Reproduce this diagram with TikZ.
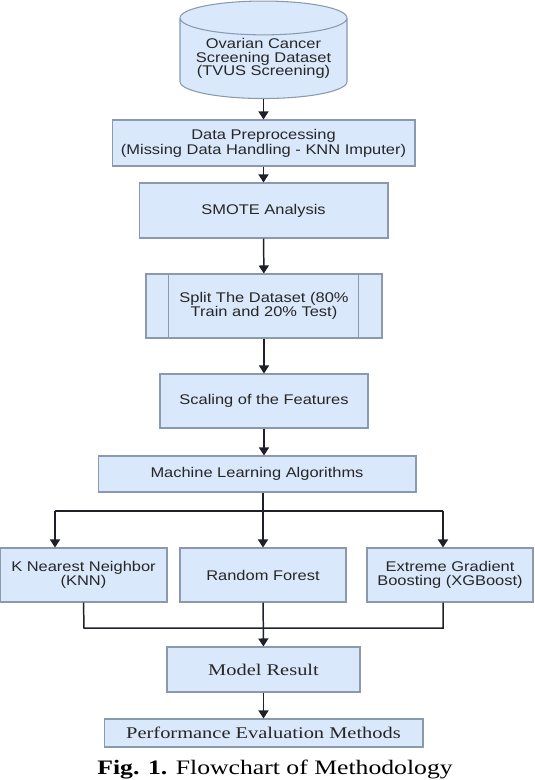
\documentclass[tikz,border=0pt]{standalone}
\usepackage{fontspec}
\usetikzlibrary{shapes.geometric,arrows.meta}
\newfontfamily\boxfont[FakeStretch=1.17]{Liberation Sans}
\newfontfamily\serfont[FakeStretch=1.25]{Liberation Serif}
\definecolor{boxfill}{RGB}{218,232,252}
\definecolor{boxline}{RGB}{140,152,172}
\definecolor{flowline}{RGB}{30,32,40}
\begin{document}
\begin{tikzpicture}[x=0.02cm,y=-0.02cm,
	stepbox/.style={draw=boxline,fill=boxfill,line width=0.6pt,inner sep=0pt,align=center,text=black!85,font=\boxfont\fontsize{8}{7.8}\selectfont},
	resbox/.style={stepbox,font=\serfont\fontsize{9.3}{11}\selectfont},
	flow/.style={draw=flowline,line width=0.85pt},
	flowarrow/.style={flow,-{Triangle[width=0.2cm,length=0.16cm]}}]
	\useasboundingbox (0,0) rectangle (534,780);
	% dataset
	\node[stepbox,cylinder,shape border rotate=90,aspect=0.25,minimum width=3.34cm,minimum height=1.95cm] (data) at (263.5,58.5) {Ovarian Cancer\\Screening Dataset\\(TVUS Screening)};
	% main column
	\node[stepbox,minimum width=6.06cm,minimum height=0.92cm,font=\boxfont\fontsize{8}{8.5}\selectfont] (prep) at (263.5,143) {Data Preprocessing\\(Missing Data Handling - KNN Imputer)};
	\node[stepbox,minimum width=4.98cm,minimum height=1.1cm] (smote) at (263.5,210.5) {SMOTE Analysis};
	\node[stepbox,minimum width=4.72cm,minimum height=1.28cm] (split) at (264,306) {Split The Dataset (80\%\\Train and 20\% Test)};
	\draw[boxline,line width=0.6pt] ([xshift=0.46cm]split.north west) -- ([xshift=0.46cm]split.south west);
	\draw[boxline,line width=0.6pt] ([xshift=-0.48cm]split.north east) -- ([xshift=-0.48cm]split.south east);
	\node[stepbox,minimum width=4.16cm,minimum height=1.08cm] (scale) at (264,401) {Scaling of the Features};
	\node[stepbox,minimum width=6.36cm,minimum height=0.72cm] (ml) at (257,474) {Machine Learning Algorithms};
	% algorithms
	\node[stepbox,minimum width=3.34cm,minimum height=1.08cm] (knn) at (83.5,575) {K Nearest Neighbor\\(KNN)};
	\node[stepbox,minimum width=3.32cm,minimum height=1.08cm] (rf) at (263,575) {Random Forest};
	\node[stepbox,minimum width=3.32cm,minimum height=1.08cm] (xgb) at (450,575) {Extreme Gradient\\Boosting (XGBoost)};
	% results
	\node[resbox,minimum width=3.86cm,minimum height=0.9cm] (model) at (263.5,669.5) {Model Result};
	\node[resbox,minimum width=6.38cm,minimum height=0.56cm] (perf) at (263.5,733) {Performance Evaluation Methods};
	\node[anchor=base west,inner sep=0pt,font=\serfont\fontsize{11.7}{14}\selectfont] (caption) at (97,774) {\textbf{Fig. 1.} Flowchart of Methodology};
	% arrows
	\draw[flowarrow] (data.south) -- (prep);
	\draw[flowarrow] (prep) -- (smote);
	\draw[flowarrow] (smote) -- (split);
	\draw[flowarrow] (split) -- (scale);
	\draw[flowarrow] (scale.south) -- (scale.south |- ml.north);
	\coordinate (forkL) at (55,511);
	\coordinate (forkR) at (443,511);
	\draw[flow] (forkL) -- (forkR);
	\draw[flowarrow] (forkL) -- (forkL |- knn.north);
	\draw[flowarrow] (ml.south -| rf.north) -- (rf);
	\draw[flowarrow] (forkR) -- (forkR |- xgb.north);
	\coordinate (joinL) at (84,628);
	\coordinate (joinR) at (443,628);
	\draw[flow] (knn.south) -- (joinL) -- (joinR) -- (joinR |- xgb.south);
	\draw[flowarrow] (rf) -- (model);
	\draw[flowarrow] (model) -- (perf);
\end{tikzpicture}
\end{document}
